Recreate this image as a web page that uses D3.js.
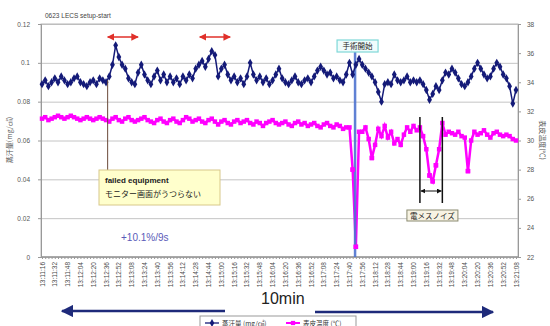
<!DOCTYPE html>
<html>
<head>
<meta charset="utf-8">
<script src="https://cdn.jsdelivr.net/npm/d3@7"></script>
<style>
  body { margin: 0; background: #fff; }
  svg { display: block; font-family: "Liberation Sans", "Noto Sans CJK JP", sans-serif; }
</style>
</head>
<body>
<div class="chart-container"></div>
<script>
// sampled every 4 s from 13:11:16
const sampleStep = 4;
const tickLabels = ["13:11:16","13:11:32","13:11:48","13:12:04","13:12:20","13:12:36","13:12:52","13:13:08",
  "13:13:24","13:13:40","13:13:56","13:14:12","13:14:28","13:14:44","13:15:00","13:15:16","13:15:32",
  "13:15:48","13:16:04","13:16:20","13:16:36","13:16:52","13:17:08","13:17:24","13:17:40","13:17:56",
  "13:18:12","13:18:28","13:18:44","13:19:00","13:19:16","13:19:32","13:19:48","13:20:04","13:20:20",
  "13:20:36","13:20:52","13:21:08"];
const leftTicks = [0, 0.02, 0.04, 0.06, 0.08, 0.1, 0.12];
const rightTicks = [22, 24, 26, 28, 30, 32, 34, 36, 38];

// 蒸汗量 (mg/cm2)
const sweatRate = [
  0.089,0.091,0.088,0.090,0.092,0.090,0.093,0.091,0.089,0.090,0.092,0.093,0.090,0.089,0.088,0.090,0.091,0.089,0.092,0.091,
  0.090,0.093,0.099,0.109,0.103,0.099,0.097,0.092,0.090,0.089,0.095,0.099,0.094,0.091,0.089,0.093,0.096,0.091,0.094,0.090,
  0.093,0.090,0.092,0.089,0.093,0.091,0.094,0.092,0.097,0.099,0.101,0.098,0.102,0.106,0.104,0.093,0.097,0.099,0.094,0.091,
  0.093,0.090,0.092,0.089,0.093,0.100,0.094,0.091,0.093,0.090,0.092,0.089,0.091,0.094,0.097,0.092,0.090,0.089,0.091,0.093,
  0.090,0.089,0.091,0.092,0.090,0.093,0.096,0.098,0.096,0.094,0.095,0.092,0.093,0.091,0.090,0.094,0.100,0.094,0.099,0.102,
  0.099,0.097,0.095,0.093,0.090,0.085,0.080,0.089,0.090,0.089,0.094,0.091,0.090,0.091,0.093,0.090,0.091,0.090,0.091,0.089,
  0.086,0.081,0.084,0.088,0.086,0.091,0.095,0.094,0.097,0.095,0.092,0.089,0.088,0.090,0.093,0.097,0.100,0.097,0.094,0.092,
  0.093,0.097,0.100,0.098,0.094,0.092,0.088,0.079,0.086
];

// 表皮温度 (C)
const skinTemp = [
  31.5,31.6,31.4,31.5,31.6,31.7,31.6,31.5,31.6,31.7,31.6,31.5,31.4,31.5,31.6,31.5,31.4,31.5,31.6,31.5,
  31.4,31.3,31.5,31.6,31.4,31.3,31.5,31.6,31.4,31.3,31.4,31.5,31.6,31.4,31.3,31.2,31.4,31.5,31.3,31.2,
  31.4,31.5,31.3,31.2,31.4,31.6,31.5,31.3,31.4,31.5,31.3,31.2,31.4,31.5,31.3,31.1,31.3,31.4,31.2,31.1,
  31.3,31.4,31.2,31.3,31.4,31.2,31.1,31.3,31.2,31.0,31.2,31.3,31.4,31.2,31.1,31.2,31.3,31.1,31.0,31.2,
  31.3,31.1,31.2,31.0,31.1,31.2,31.0,30.9,31.1,31.2,31.0,30.9,31.1,31.0,30.8,30.9,30.9,28.0,22.7,30.6,
  30.6,30.9,30.1,28.8,29.7,30.8,30.3,31.0,30.2,30.6,29.8,30.1,29.7,30.4,30.9,30.6,31.0,30.7,30.9,30.3,
  29.4,27.6,27.2,28.3,29.4,31.2,30.4,30.6,30.5,30.4,30.6,30.3,30.2,27.9,30.0,30.6,30.4,30.5,30.7,30.4,
  30.2,30.5,30.6,30.4,30.3,30.4,30.3,30.1,30.0
];

// annotation times in seconds after 13:11:16
const redSpans = [[82, 120], [197, 235]];
const failedAt = 82;
const surgeryStart = 391;
const noiseSpan = [472, 500];

const plot = { left: 41, right: 518, top: 24, bottom: 257 };

const x = d3.scaleLinear().domain([0, 592]).range([42, 516]);
const yL = d3.scaleLinear().domain([0, 0.12]).range([plot.bottom, plot.top]);
const yR = d3.scaleLinear().domain([22, 38]).range([plot.bottom, plot.top]);

const svg = d3.select('.chart-container')
  .append('svg')
  .attr('width', 550)
  .attr('height', 326);

svg.append('rect').attr('width', 550).attr('height', 326).attr('fill', '#fff');

svg.append('text')
  .attr('x', 45).attr('y', 18)
  .attr('font-size', 6.5).attr('fill', '#444')
  .text('0623 LECS  setup-start');

// grid
svg.append('g')
  .attr('transform', 'translate(' + plot.left + ',0)')
  .call(d3.axisLeft(yL).tickValues(leftTicks).tickSize(-(plot.right - plot.left)).tickFormat(''))
  .call(g => g.select('.domain').remove())
  .call(g => g.selectAll('line').attr('stroke', '#c4c4c4'));

// frame
svg.append('rect')
  .attr('x', plot.left).attr('y', plot.top)
  .attr('width', plot.right - plot.left).attr('height', plot.bottom - plot.top)
  .attr('fill', 'none').attr('stroke', '#b8b8b8');

// left axis
svg.append('g')
  .attr('transform', 'translate(' + plot.left + ',0)')
  .call(d3.axisLeft(yL).tickValues(leftTicks).tickSize(3).tickFormat(d => String(d)))
  .call(g => g.select('.domain').attr('stroke', '#999'))
  .call(g => g.selectAll('line').attr('stroke', '#999'))
  .call(g => g.selectAll('text').attr('font-size', 6.5).attr('fill', '#555').attr('dx', -5));

// right axis
svg.append('g')
  .attr('transform', 'translate(' + plot.right + ',0)')
  .call(d3.axisRight(yR).tickValues(rightTicks).tickSize(3))
  .call(g => g.select('.domain').attr('stroke', '#999'))
  .call(g => g.selectAll('line').attr('stroke', '#999'))
  .call(g => g.selectAll('text').attr('font-size', 6.5).attr('fill', '#555').attr('dx', 3));

// bottom axis with dense minor ticks
const minorTicks = d3.range(0, 593, sampleStep);
svg.append('g')
  .attr('transform', 'translate(0,' + plot.bottom + ')')
  .call(d3.axisBottom(x).tickValues(minorTicks).tickSize(2).tickFormat(''))
  .call(g => g.select('.domain').remove())
  .call(g => g.selectAll('line').attr('stroke', '#999'));

svg.append('line')
  .attr('x1', plot.left).attr('x2', plot.right)
  .attr('y1', plot.bottom).attr('y2', plot.bottom)
  .attr('stroke', '#999').attr('stroke-width', 1.5);

svg.append('g')
  .selectAll('text')
  .data(tickLabels)
  .join('text')
  .attr('transform', (d, i) => 'translate(' + (x(i * 16) + 2.5) + ',' + (plot.bottom + 5) + ') rotate(-90)')
  .attr('text-anchor', 'end')
  .attr('font-size', 6.5)
  .attr('fill', '#4a4a4a')
  .text(d => d);

// axis titles
svg.append('text')
  .attr('transform', 'translate(12,' + 140 + ') rotate(-90)')
  .attr('text-anchor', 'middle')
  .attr('font-size', 7).attr('fill', '#555')
  .attr('font-family', '"Noto Sans CJK JP", sans-serif')
  .text('蒸汗量(mg/㎠)');

svg.append('text')
  .attr('transform', 'translate(540,' + 140 + ') rotate(90)')
  .attr('text-anchor', 'middle')
  .attr('font-size', 7).attr('fill', '#555')
  .attr('font-family', '"Noto Sans CJK JP", sans-serif')
  .text('表皮温度(℃)');

// series
const sweatLine = d3.line().x((d, i) => x(i * sampleStep)).y(d => yL(d));
const tempLine = d3.line().x((d, i) => x(i * sampleStep)).y(d => yR(d));

svg.append('path')
  .attr('fill', 'none').attr('stroke', '#ff00ff').attr('stroke-width', 2.5)
  .attr('d', tempLine(skinTemp));

svg.append('g')
  .selectAll('path')
  .data(skinTemp)
  .join('path')
  .attr('transform', (d, i) => 'translate(' + x(i * sampleStep) + ',' + yR(d) + ')')
  .attr('d', d3.symbol(d3.symbolSquare, 20))
  .attr('fill', '#ff00ff');

// surgery start line
svg.append('line')
  .attr('x1', x(surgeryStart)).attr('x2', x(surgeryStart))
  .attr('y1', 52).attr('y2', plot.bottom)
  .attr('stroke', '#4f74d0').attr('stroke-width', 2.5).attr('opacity', 0.9);

svg.append('path')
  .attr('fill', 'none').attr('stroke', '#141a78').attr('stroke-width', 1.5)
  .attr('d', sweatLine(sweatRate));

svg.append('g')
  .selectAll('path')
  .data(sweatRate)
  .join('path')
  .attr('transform', (d, i) => 'translate(' + x(i * sampleStep) + ',' + yL(d) + ')')
  .attr('d', d3.symbol(d3.symbolDiamond, 20))
  .attr('fill', '#141a78');

// magenta spikes at the surgery start drawn over the line
svg.append('g')
  .selectAll('path')
  .data(skinTemp.map((d, i) => [i, d]).filter(p => p[1] < 29))
  .join('path')
  .attr('transform', d => 'translate(' + x(d[0] * sampleStep) + ',' + yR(d[1]) + ')')
  .attr('d', d3.symbol(d3.symbolSquare, 20))
  .attr('fill', '#ff00ff');

// arrowheads
const defs = svg.append('defs');
function marker(id, color) {
  defs.append('marker')
    .attr('id', id).attr('viewBox', '0 0 10 10')
    .attr('refX', 9).attr('refY', 5)
    .attr('markerWidth', 5).attr('markerHeight', 5)
    .attr('orient', 'auto-start-reverse')
    .append('path').attr('d', 'M0,0L10,5L0,10z').attr('fill', color);
}
marker('arrRed', '#e0302a');
marker('arrBlack', '#111');
marker('arrNavy', '#1e2a7a');

// red spans over peaks
svg.append('g')
  .selectAll('line')
  .data(redSpans)
  .join('line')
  .attr('x1', d => x(d[0])).attr('x2', d => x(d[1]))
  .attr('y1', 37).attr('y2', 37)
  .attr('stroke', '#e0302a').attr('stroke-width', 1.5)
  .attr('marker-start', 'url(#arrRed)').attr('marker-end', 'url(#arrRed)');

// failed equipment callout
svg.append('line')
  .attr('x1', x(failedAt)).attr('x2', x(failedAt))
  .attr('y1', yL(0.091)).attr('y2', 170)
  .attr('stroke', '#6b4a3a').attr('stroke-width', 1);

const fe = svg.append('g').attr('transform', 'translate(99,170)');
fe.append('rect').attr('width', 121).attr('height', 35)
  .attr('fill', '#ffffcc').attr('stroke', '#d8c88a');
fe.append('text').attr('x', 6).attr('y', 13)
  .attr('font-size', 8).attr('font-weight', 'bold').attr('fill', '#222')
  .text('failed equipment');
fe.append('text').attr('x', 6).attr('y', 27)
  .attr('font-size', 8).attr('fill', '#222')
  .attr('font-family', '"Noto Sans CJK JP", sans-serif')
  .text('モニター画面がうつらない');

svg.append('text')
  .attr('x', 121).attr('y', 241)
  .attr('font-size', 10).attr('fill', '#5a5ab8')
  .text('+10.1%/9s');

// surgery start label
const ss = svg.append('g').attr('transform', 'translate(' + (x(surgeryStart) - 18) + ',40)');
ss.append('rect').attr('width', 41).attr('height', 12)
  .attr('fill', '#effcfc').attr('stroke', '#7fd8d8').attr('stroke-width', 1.2);
ss.append('text').attr('x', 20.5).attr('y', 9)
  .attr('text-anchor', 'middle').attr('font-size', 7.5).attr('fill', '#222')
  .attr('font-family', '"Noto Sans CJK JP", sans-serif')
  .text('手術開始');

// electrosurgical noise bracket
svg.append('g')
  .selectAll('line')
  .data(noiseSpan)
  .join('line')
  .attr('x1', d => x(d)).attr('x2', d => x(d))
  .attr('y1', 117).attr('y2', 203)
  .attr('stroke', '#111').attr('stroke-width', 1.5);

svg.append('line')
  .attr('x1', x(noiseSpan[0]) + 1).attr('x2', x(noiseSpan[1]) - 1)
  .attr('y1', 191).attr('y2', 191)
  .attr('stroke', '#111').attr('stroke-width', 1)
  .attr('marker-start', 'url(#arrBlack)').attr('marker-end', 'url(#arrBlack)');

const nz = svg.append('g').attr('transform', 'translate(' + (x(noiseSpan[0]) - 13) + ',210)');
nz.append('rect').attr('width', 51).attr('height', 11)
  .attr('fill', '#f7f3e3').attr('stroke', '#8a8a70');
nz.append('text').attr('x', 25.5).attr('y', 8.5)
  .attr('text-anchor', 'middle').attr('font-size', 7.5).attr('fill', '#222')
  .attr('font-family', '"Noto Sans CJK JP", sans-serif')
  .text('電メスノイズ');

// 10min span
svg.append('text')
  .attr('x', 261).attr('y', 304)
  .attr('font-size', 16).attr('fill', '#222')
  .text('10min');

svg.append('line')
  .attr('x1', 225).attr('x2', 62).attr('y1', 311).attr('y2', 311)
  .attr('stroke', '#1e2a7a').attr('stroke-width', 2.5)
  .attr('marker-end', 'url(#arrNavy)');
svg.append('line')
  .attr('x1', 315).attr('x2', 493).attr('y1', 312).attr('y2', 312)
  .attr('stroke', '#1e2a7a').attr('stroke-width', 2.5)
  .attr('marker-end', 'url(#arrNavy)');

// legend
const lg = svg.append('g').attr('transform', 'translate(200,316)');
lg.append('rect').attr('width', 156).attr('height', 14)
  .attr('fill', '#fff').attr('stroke', '#999');
lg.append('line').attr('x1', 5).attr('x2', 19).attr('y1', 7).attr('y2', 7)
  .attr('stroke', '#141a78').attr('stroke-width', 1.3);
lg.append('path').attr('transform', 'translate(12,7)')
  .attr('d', d3.symbol(d3.symbolDiamond, 18)).attr('fill', '#141a78');
lg.append('text').attr('x', 22).attr('y', 9.5)
  .attr('font-size', 6.5).attr('fill', '#333')
  .attr('font-family', '"Noto Sans CJK JP", sans-serif')
  .text('蒸汗量 (mg/㎠)');
lg.append('line').attr('x1', 86).attr('x2', 100).attr('y1', 7).attr('y2', 7)
  .attr('stroke', '#ff00ff').attr('stroke-width', 2);
lg.append('path').attr('transform', 'translate(93,7)')
  .attr('d', d3.symbol(d3.symbolSquare, 18)).attr('fill', '#ff00ff');
lg.append('text').attr('x', 103).attr('y', 9.5)
  .attr('font-size', 6.5).attr('fill', '#333')
  .attr('font-family', '"Noto Sans CJK JP", sans-serif')
  .text('表皮温度 (℃)');
</script>
</body>
</html>
